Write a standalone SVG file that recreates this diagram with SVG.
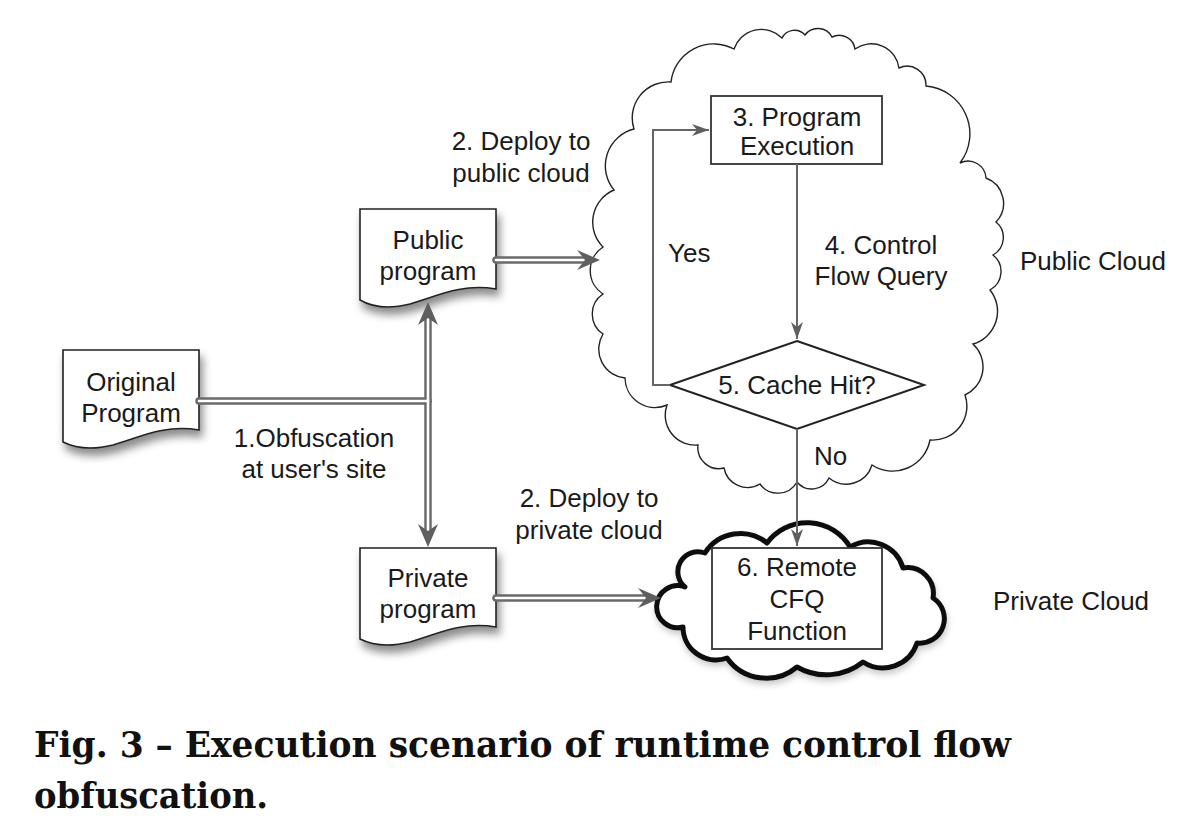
<svg xmlns="http://www.w3.org/2000/svg" width="1192" height="824" viewBox="0 0 1192 824">
<style>
.t{font-family:"Liberation Sans",Arial,Helvetica,sans-serif;font-size:26px;fill:#1a1a1a}
.c{text-anchor:middle}
.doc{fill:#fff;stroke:#222;stroke-width:1.6}
.box{fill:#fff;stroke:#333;stroke-width:1.8}
.thin{fill:none;stroke:#666;stroke-width:2}
.dblo{fill:none;stroke:#6a6a6a;stroke-width:7.5;stroke-linecap:round}
.dbli{fill:none;stroke:#fff;stroke-width:2.6;stroke-linecap:round}
.ah{fill:#5f5f5f}
.cap{font-family:"DejaVu Serif Condensed","DejaVu Serif",serif;font-weight:bold;font-size:35px;fill:#111}
</style>
<defs>
<filter id="sh" x="-20%" y="-20%" width="150%" height="160%">
<feDropShadow dx="3" dy="7" stdDeviation="4.5" flood-color="#000" flood-opacity="0.45"/>
</filter>
<filter id="sh2" x="-10%" y="-10%" width="120%" height="130%">
<feDropShadow dx="1" dy="4" stdDeviation="3" flood-color="#000" flood-opacity="0.2"/>
</filter>
<marker id="arr" viewBox="0 0 17 12" refX="17" refY="6" markerWidth="17" markerHeight="12" markerUnits="userSpaceOnUse" orient="auto">
<path d="M0,0 L17,6 L0,12 L5,6 Z" fill="#5f5f5f"/>
</marker>
</defs>
<rect width="1192" height="824" fill="#fff"/>

<g id="public-cloud">
<path d="M782,38 A14,14 0 0 1 805,35 A16,16 0 0 1 832,37 A16,16 0 0 1 855,49 A28,28 0 0 1 899,68 A19,19 0 0 1 926,86 A48,48 0 0 1 960,163 A18,18 0 0 1 986,178 A27,27 0 0 1 996,222 A20,20 0 0 1 993,255 A21,21 0 0 1 990,290 A34,34 0 0 1 973,344 A31,31 0 0 1 965,395 A34,34 0 0 1 930,440 A38,38 0 0 1 872,465 A27,27 0 0 1 829,478 A19,19 0 0 1 797,482 A22,22 0 0 1 760,484 A24,24 0 0 1 724,468 A21,21 0 0 1 698,445 A30,30 0 0 1 667,405 A30,30 0 0 1 625,378 A29,29 0 0 1 603,334 A24,24 0 0 1 603,294 A28,28 0 0 1 603,247 A35,35 0 0 1 614,190 A38,38 0 0 1 634,129 A36,36 0 0 1 671,82 A43,43 0 0 1 734,49 A29,29 0 0 1 782,38 Z" fill="#fff" stroke="#222" stroke-width="1.4"/>
<text class="t" x="1020" y="270">Public Cloud</text>
</g>

<g id="private-cloud">
<path d="M767,543 A50,50 0 0 1 850,547 A36,36 0 0 1 903,568 A26,26 0 0 1 933,598 A24.5,24.5 0 0 1 917,643 A36,36 0 0 1 863,662 A59,59 0 0 1 797,667 A48,48 0 0 1 727,658 A33,33 0 0 1 683,627 A21,21 0 1 1 685,587 A20,20 0 0 1 705,553 A42,42 0 0 1 767,543 Z" fill="#fff" stroke="#111" stroke-width="5" stroke-linejoin="round" filter="url(#sh2)"/>
<text class="t" x="993" y="610">Private Cloud</text>
</g>

<g id="original-program">
<path class="doc" filter="url(#sh)" d="M63,350 H199 V430 C163,424 138,438 113,445 C93,450 75,448 63,442 Z"/>
<text class="t c" x="131" y="391">Original</text>
<text class="t c" x="131" y="422">Program</text>
</g>

<g id="public-program">
<path class="doc" filter="url(#sh)" d="M360,209 H496 V289 C460,283 435,297 410,304 C390,309 372,307 360,300 Z"/>
<text class="t c" x="428" y="249">Public</text>
<text class="t c" x="428" y="280">program</text>
</g>

<g id="private-program">
<path class="doc" filter="url(#sh)" d="M360,548 H496 V627 C460,621 435,635 410,642 C390,647 372,645 360,639 Z"/>
<text class="t c" x="428" y="587">Private</text>
<text class="t c" x="428" y="618">program</text>
</g>

<g id="program-execution">
<rect class="box" x="711" y="96" width="171" height="68"/>
<text class="t c" x="797" y="126">3. Program</text>
<text class="t c" x="797" y="155">Execution</text>
</g>

<g id="cache-hit">
<polygon points="797,341 924,385 797,429 670,385" fill="#fff" stroke="#222" stroke-width="2"/>
<text class="t c" x="797" y="394">5. Cache Hit?</text>
</g>

<g id="remote-cfq">
<rect class="box" x="712" y="548" width="170" height="101"/>
<text class="t c" x="797" y="576">6. Remote</text>
<text class="t c" x="797" y="608">CFQ</text>
<text class="t c" x="797" y="640">Function</text>
</g>

<g id="connectors">
<path class="dblo" d="M199,401 H428"/>
<path class="dblo" d="M428,318 V531"/>
<path class="dblo" d="M496,260 H586"/>
<path class="dblo" d="M496,598 H647"/>
<path class="dbli" d="M199,401 H428"/>
<path class="dbli" d="M428,318 V531"/>
<path class="dbli" d="M496,260 H586"/>
<path class="dbli" d="M496,598 H647"/>
<polygon class="ah" points="428,302 418,325 428,318 438,325"/>
<polygon class="ah" points="428,547 418,524 428,531 438,524"/>
<polygon class="ah" points="600,260 577,250 585,260 577,270"/>
<polygon class="ah" points="661,598 638,588 646,598 638,608"/>
<path class="thin" d="M797,164 V339" marker-end="url(#arr)"/>
<path class="thin" d="M670,385 H653 V130 H709" marker-end="url(#arr)"/>
<path class="thin" d="M797,429 V546" marker-end="url(#arr)"/>
<text class="t c" x="521" y="150">2. Deploy to</text>
<text class="t c" x="521" y="182">public cloud</text>
<text class="t c" x="589" y="507">2. Deploy to</text>
<text class="t c" x="589" y="539">private cloud</text>
<text class="t c" x="314" y="447">1.Obfuscation</text>
<text class="t c" x="314" y="478">at user's site</text>
<text class="t" x="668" y="262">Yes</text>
<text class="t c" x="881" y="254">4. Control</text>
<text class="t c" x="881" y="285">Flow Query</text>
<text class="t" x="814" y="465">No</text>
</g>

<text class="cap" x="34" y="757" textLength="977" lengthAdjust="spacingAndGlyphs">Fig. 3 – Execution scenario of runtime control flow</text>
<text class="cap" x="34" y="808" textLength="234" lengthAdjust="spacingAndGlyphs">obfuscation.</text>
</svg>
